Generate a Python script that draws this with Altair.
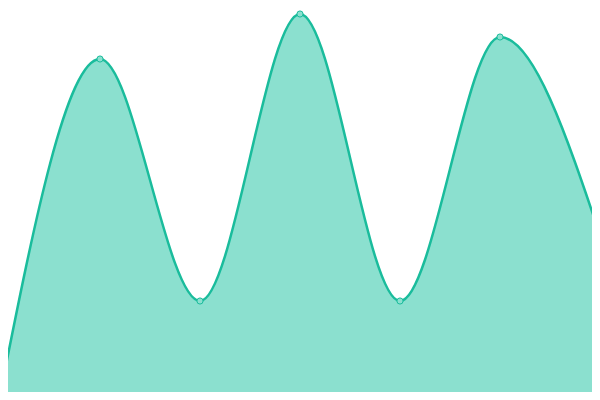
import altair as alt
import pandas as pd

xs = [0, 1, 2, 3, 4, 5, 6]
values = [5, 341, 99, 386, 99, 363, 165]

df = pd.DataFrame({"x": xs, "v": values})

xenc = alt.X("x:Q", scale=alt.Scale(domain=[0.08, 5.92], nice=False, zero=False), axis=None)
yenc = alt.Y("v:Q", scale=alt.Scale(domain=[8, 392], nice=False, zero=False), axis=None)

base = alt.Chart(df)
area = base.mark_area(interpolate="monotone", color="#8be0cf", opacity=1, clip=True).encode(x=xenc, y=yenc)
line = base.mark_line(interpolate="monotone", color="#1abc9c", strokeWidth=2.5, clip=True).encode(x=xenc, y=yenc)
pts = base.mark_point(filled=True, fill="#8be0cf", stroke="#1abc9c", strokeWidth=1, size=38, opacity=1, clip=True).encode(x=xenc, y=yenc)

chart = (area + line + pts).properties(width=584, height=384, padding=0, autosize="none").configure_view(stroke=None)
chart.save("out.html", embed_options={"renderer": "svg", "actions": False})
